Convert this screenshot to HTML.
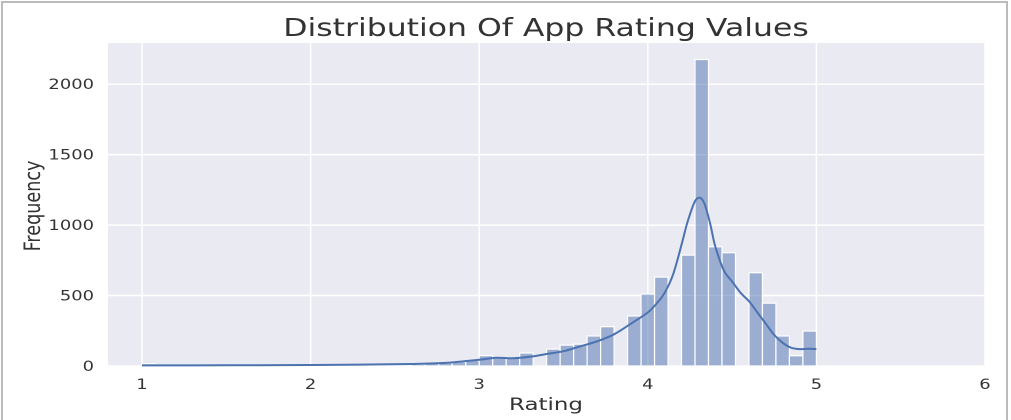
<!DOCTYPE html>
<html><head><meta charset="utf-8"><style>
html,body{margin:0;padding:0;background:#fff;width:1011px;height:420px;overflow:hidden}
svg{display:block}
text{font-family:"DejaVu Sans","Liberation Sans",sans-serif;fill:#333}
</style></head><body>
<svg id="chart" width="1011" height="420">
<rect x="2" y="2" width="1005" height="430" fill="#fff" stroke="#bbb" stroke-width="2"/>
<rect x="108" y="43" width="877" height="323" fill="#eaeaf2"/>
<g id="grid"></g><g id="bars"></g><g id="kde"></g><g id="ticks"></g>
<text transform="translate(546,36) scale(1.26,1)" font-size="25" text-anchor="middle">Distribution Of App Rating Values</text>
<text transform="translate(546,410) scale(1.35,1)" font-size="17" text-anchor="middle">Rating</text>
<text transform="translate(40,206) rotate(-90) scale(0.8,1)" font-size="22" text-anchor="middle">Frequency</text>
</svg>
<script>
const xTicks=[1,2,3,4,5,6];
const yTicks=[0,500,1000,1500,2000];
const binStart=1, binWidth=0.08;
const counts=[16,0,0,0,0,0,0,0,0,0,0,0,3,4,4,5,6,6,8,9,12,18,20,28,40,74,57,57,92,0,120,148,155,213,279,0,355,511,631,0,787,2175,846,804,0,662,446,213,73,248];
const kdeX=[1,1.5,2,2.3,2.6,2.8,3.0,3.1,3.2,3.3,3.4,3.5,3.6,3.7,3.8,3.9,4.0,4.05,4.1,4.15,4.2,4.23,4.26,4.28,4.3,4.32,4.34,4.37,4.4,4.45,4.5,4.55,4.6,4.65,4.7,4.75,4.8,4.85,4.9,4.95,5.0];
const kdeY=[4,5,7,10,14,22,45,58,55,65,85,105,140,175,225,300,380,440,520,650,860,1000,1110,1170,1194,1185,1140,1010,850,680,600,520,460,380,300,220,165,130,120,122,120];
const NS="http://www.w3.org/2000/svg";
const X=v=>142+(v-1)*168.6, Y=v=>366-v*0.1409;
function mk(tag,attrs,parent){const e=document.createElementNS(NS,tag);for(const k in attrs)e.setAttribute(k,attrs[k]);document.getElementById(parent).appendChild(e);return e;}
xTicks.forEach(t=>{
 const l=mk('line',{x1:X(t),x2:X(t),y1:43,y2:366,stroke:'#fff','stroke-width':1.5},'grid');
 
 
 const tx=mk('text',{transform:'translate('+X(t)+',389) scale(1.28,1)','font-size':14,'text-anchor':'middle'},'ticks');tx.textContent=t;
 
 
});
yTicks.forEach(t=>{
 const l=mk('line',{x1:108,x2:985,y1:Y(t),y2:Y(t),stroke:'#fff','stroke-width':1.5},'grid');
 
 
 const tx=mk('text',{transform:'translate(94,'+(Y(t)+5)+') scale(1.28,1)','font-size':14,'text-anchor':'end'},'ticks');tx.textContent=t;
 
 
});
counts.forEach((c,i)=>{
 if(c<=0)return;
 const x0=X(binStart+i*binWidth),x1=X(binStart+(i+1)*binWidth);
 const r=mk('rect',{x:x0,y:Y(c),width:x1-x0,height:366-Y(c),fill:'rgba(76,114,176,0.5)',stroke:'#fff','stroke-width':1.2},'bars');
 
 
});
let d='M'+X(kdeX[0]).toFixed(1)+' '+Y(kdeY[0]).toFixed(1);
for(let i=1;i<kdeX.length;i++){
 const x0=X(kdeX[i-1]),y0=Y(kdeY[i-1]),x1=X(kdeX[i]),y1=Y(kdeY[i]);
 const xp=i>1?X(kdeX[i-2]):x0,yp=i>1?Y(kdeY[i-2]):y0;
 const xn=i<kdeX.length-1?X(kdeX[i+1]):x1,yn=i<kdeX.length-1?Y(kdeY[i+1]):y1;
 const c1x=x0+(x1-xp)/6,c1y=y0+(y1-yp)/6,c2x=x1-(xn-x0)/6,c2y=y1-(yn-y0)/6;
 d+=' C'+c1x.toFixed(1)+' '+c1y.toFixed(1)+' '+c2x.toFixed(1)+' '+c2y.toFixed(1)+' '+x1.toFixed(1)+' '+y1.toFixed(1);
}
const p=mk('path',{d:d,fill:'none',stroke:'#4c72b0','stroke-width':2,'stroke-linejoin':'round'},'kde');


</script>
</body></html>
